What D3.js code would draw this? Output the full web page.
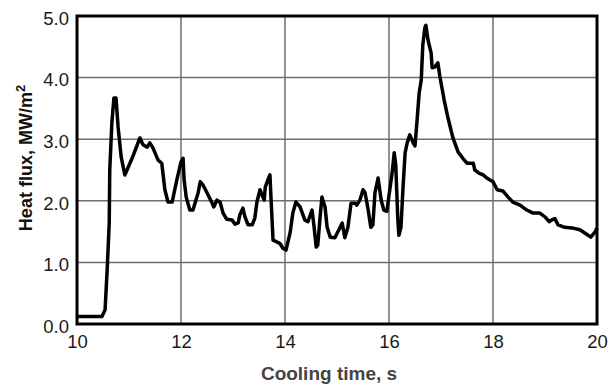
<!DOCTYPE html>
<html><head><meta charset="utf-8">
<script src="https://cdn.jsdelivr.net/npm/d3@7"></script>
<style>html,body{margin:0;padding:0;background:#fff;}svg{display:block;}</style>
</head><body>
<svg id="chart" width="609" height="385"></svg>
<script>
const time = [10.00,10.48,10.54,10.58,10.62,10.63,10.67,10.71,10.75,10.79,10.85,10.92,11.06,11.21,11.27,11.35,11.40,11.46,11.56,11.63,11.69,11.75,11.83,11.88,11.92,12.00,12.04,12.06,12.10,12.17,12.23,12.33,12.37,12.42,12.50,12.60,12.63,12.69,12.75,12.81,12.88,12.98,13.04,13.10,13.13,13.19,13.23,13.29,13.37,13.42,13.46,13.52,13.56,13.60,13.62,13.67,13.71,13.73,13.77,13.85,13.90,13.96,14.02,14.10,14.15,14.21,14.29,14.38,14.44,14.52,14.56,14.60,14.63,14.67,14.71,14.77,14.81,14.87,14.96,15.06,15.10,15.15,15.21,15.27,15.35,15.38,15.44,15.50,15.54,15.60,15.65,15.69,15.73,15.79,15.85,15.90,15.96,16.00,16.06,16.10,16.13,16.15,16.17,16.19,16.23,16.27,16.31,16.35,16.40,16.46,16.50,16.54,16.58,16.62,16.65,16.69,16.71,16.75,16.81,16.83,16.88,16.94,16.98,17.06,17.13,17.23,17.33,17.42,17.50,17.62,17.65,17.73,17.81,17.88,18.00,18.08,18.19,18.29,18.38,18.52,18.65,18.77,18.90,19.00,19.08,19.13,19.19,19.25,19.38,19.52,19.67,19.83,19.88,19.96,20.00];
const heatFlux = [0.12,0.12,0.23,0.88,1.64,2.50,3.26,3.67,3.67,3.20,2.71,2.42,2.69,3.02,2.91,2.87,2.94,2.86,2.66,2.61,2.18,1.98,1.98,2.18,2.34,2.63,2.69,2.34,2.06,1.85,1.85,2.13,2.31,2.26,2.13,1.96,1.90,2.01,1.98,1.80,1.70,1.69,1.62,1.64,1.77,1.88,1.74,1.61,1.61,1.72,1.98,2.18,2.09,2.01,2.22,2.34,2.42,2.06,1.36,1.33,1.31,1.23,1.20,1.49,1.80,1.98,1.90,1.69,1.66,1.85,1.57,1.25,1.28,1.69,2.06,1.90,1.57,1.41,1.40,1.57,1.64,1.40,1.57,1.96,1.96,1.93,2.01,2.18,2.13,1.85,1.57,1.61,2.13,2.37,2.01,1.85,1.83,2.09,2.45,2.78,2.58,2.13,1.69,1.44,1.57,2.22,2.78,2.94,3.07,2.95,2.89,3.31,3.75,3.96,4.53,4.81,4.85,4.61,4.40,4.16,4.17,4.24,4.01,3.64,3.36,3.02,2.79,2.69,2.61,2.61,2.50,2.45,2.42,2.37,2.31,2.18,2.16,2.06,1.98,1.93,1.85,1.80,1.80,1.74,1.66,1.69,1.71,1.61,1.57,1.56,1.53,1.44,1.41,1.49,1.56];
const xTicks = [10,12,14,16,18,20];
const yTicks = [0,1,2,3,4,5];
const xTitle = "Cooling time, s";
const yTitle = "Heat flux, MW/m";

const svg = d3.select("#chart");
const L = 77, R = 597, T = 16, B = 324;
const x = d3.scaleLinear().domain([10,20]).range([L,R]);
const y = d3.scaleLinear().domain([0,5]).range([B,T]);

// gridlines
svg.append("g").selectAll("line").data(xTicks.slice(1,-1)).join("line")
  .attr("x1",d=>x(d)).attr("x2",d=>x(d)).attr("y1",T).attr("y2",B)
  .attr("stroke","#6e6e6e").attr("stroke-width",1.5);
svg.append("g").selectAll("line").data(yTicks.slice(1,-1)).join("line")
  .attr("y1",d=>y(d)).attr("y2",d=>y(d)).attr("x1",L).attr("x2",R)
  .attr("stroke","#6e6e6e").attr("stroke-width",1.5);

// axis labels via d3 axes
const xAxis = svg.append("g").attr("transform",`translate(0,${B})`)
  .call(d3.axisBottom(x).tickValues(xTicks).tickSize(0).tickPadding(11).tickFormat(d3.format("d")));
xAxis.select(".domain").remove();
xAxis.selectAll("text").attr("font-family","Liberation Sans, Arial, sans-serif").attr("font-size",18.5).attr("fill","#1a1a1a");

const yAxis = svg.append("g").attr("transform",`translate(${L},0)`)
  .call(d3.axisLeft(y).tickValues(yTicks).tickSize(0).tickPadding(8).tickFormat(d3.format(".1f")));
yAxis.select(".domain").remove();
yAxis.selectAll("text").attr("font-family","Liberation Sans, Arial, sans-serif").attr("font-size",18.5).attr("fill","#1a1a1a").attr("dy","0.45em");

// line
const line = d3.line().x((d,i)=>x(time[i])).y(d=>y(d));
svg.append("path").datum(heatFlux).attr("d",line)
  .attr("fill","none").attr("stroke","#000").attr("stroke-width",3.5).attr("stroke-linejoin","round");

// frame
svg.append("rect").attr("x",L).attr("y",T).attr("width",R-L).attr("height",B-T)
  .attr("fill","none").attr("stroke","#000").attr("stroke-width",3);

// titles
svg.append("text").attr("x",(L+R)/2 - 8).attr("y",380).attr("text-anchor","middle")
  .attr("font-family","Liberation Sans, Arial, sans-serif").attr("font-weight","bold").attr("font-size",19).attr("fill","#444")
  .text(xTitle);
const yt = svg.append("text").attr("transform",`translate(32,${158}) rotate(-90)`).attr("text-anchor","middle")
  .attr("font-family","Liberation Sans, Arial, sans-serif").attr("font-weight","bold").attr("font-size",18).attr("fill","#111");
yt.append("tspan").text(yTitle);
yt.append("tspan").attr("dy","-0.55em").attr("font-size",13).text("2");
</script>
</body></html>
